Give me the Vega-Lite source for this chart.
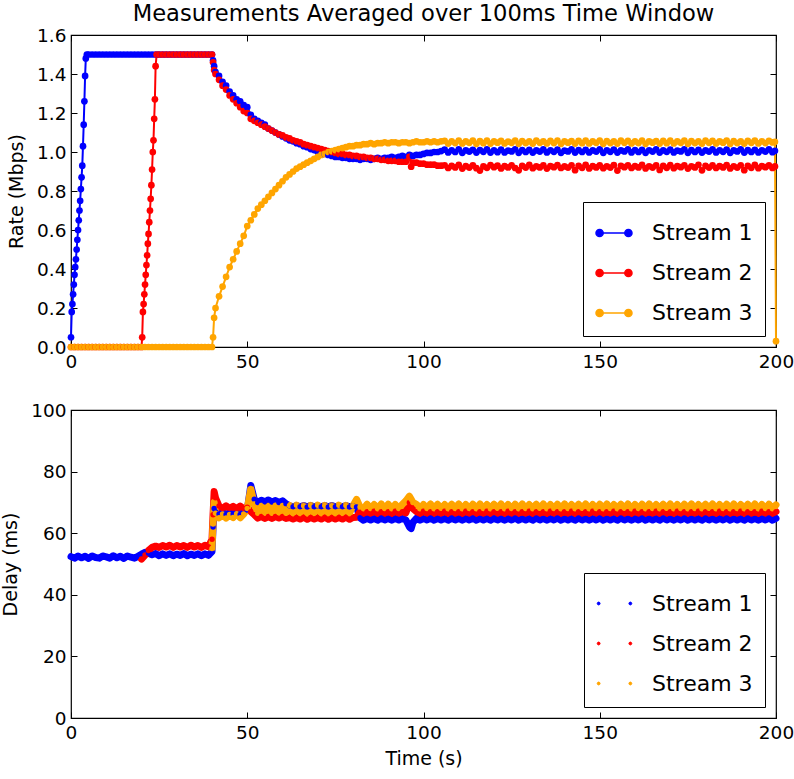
{
"$schema": "https://vega.github.io/schema/vega-lite/v6.json",
"padding": {"left": 1, "top": 2, "right": 0, "bottom": 4},
"background": "white",
"config": {
  "font": "DejaVu Sans",
  "view": {"stroke": "black", "strokeWidth": 1.2},
  "axis": {"domain": false, "grid": false, "ticks": true, "tickColor": "black", "tickSize": -6, "tickWidth": 1, "labelPadding": 11, "labelFontSize": 18.5, "labelColor": "black", "titleFontSize": 19, "titleFontWeight": "normal", "titleColor": "black", "labelFlush": false, "labelOverlap": false},
  "legend": {"orient": "bottom-right", "offset": 11, "padding": 12, "strokeColor": "black", "fillColor": "white", "cornerRadius": 0, "labelFontSize": 22, "labelColor": "black", "labelOffset": 19, "rowPadding": 10, "symbolSize": 1296, "labelFont": "DejaVu Sans"},
  "title": {"fontSize": 22.6, "fontWeight": "normal", "color": "black", "font": "DejaVu Sans"}
},
"datasets": {
"rate": [
{"t":0,"s1":0.05,"s2":0,"s3":0},{"t":0.2,"s1":0.18},{"t":0.4,"s1":0.22},{"t":0.6,"s1":0.27},{"t":0.8,"s1":0.32},
{"t":1,"s1":0.37,"s2":0,"s3":0},{"t":1.2,"s1":0.41},{"t":1.4,"s1":0.45},{"t":1.6,"s1":0.5},{"t":1.8,"s1":0.55},
{"t":2,"s1":0.6,"s2":0,"s3":0},{"t":2.2,"s1":0.65},{"t":2.4,"s1":0.7},{"t":2.6,"s1":0.75},{"t":2.8,"s1":0.81},
{"t":3,"s1":0.87,"s2":0,"s3":0},{"t":3.2,"s1":0.93},{"t":3.4,"s1":1.03},{"t":3.6,"s1":1.14},{"t":3.8,"s1":1.26},
{"t":4,"s1":1.39,"s2":0,"s3":0},{"t":4.2,"s1":1.48},{"t":4.5,"s1":1.5},
{"t":5,"s1":1.5,"s2":0,"s3":0},{"t":6,"s1":1.5,"s2":0,"s3":0},{"t":7,"s1":1.5,"s2":0,"s3":0},{"t":8,"s1":1.5,"s2":0,"s3":0},{"t":9,"s1":1.5,"s2":0,"s3":0},
{"t":10,"s1":1.5,"s2":0,"s3":0},{"t":11,"s1":1.5,"s2":0,"s3":0},{"t":12,"s1":1.5,"s2":0,"s3":0},{"t":13,"s1":1.5,"s2":0,"s3":0},{"t":14,"s1":1.5,"s2":0,"s3":0},
{"t":15,"s1":1.5,"s2":0,"s3":0},{"t":16,"s1":1.5,"s2":0,"s3":0},{"t":17,"s1":1.5,"s2":0,"s3":0},{"t":18,"s1":1.5,"s2":0,"s3":0},{"t":19,"s1":1.5,"s2":0,"s3":0},
{"t":20,"s1":1.5,"s2":0,"s3":0},{"t":20.2,"s2":0.05},{"t":20.4,"s2":0.18},{"t":20.6,"s2":0.22},{"t":20.8,"s2":0.27},
{"t":21,"s1":1.5,"s2":0.32,"s3":0},{"t":21.2,"s2":0.37},{"t":21.4,"s2":0.42},{"t":21.6,"s2":0.47},{"t":21.8,"s2":0.53},
{"t":22,"s1":1.5,"s2":0.58,"s3":0},{"t":22.2,"s2":0.64},{"t":22.4,"s2":0.7},{"t":22.6,"s2":0.76},{"t":22.8,"s2":0.83},
{"t":23,"s1":1.5,"s2":0.91,"s3":0},{"t":23.2,"s2":1.0},{"t":23.4,"s2":1.06},{"t":23.6,"s2":1.17},{"t":23.8,"s2":1.27},
{"t":24,"s1":1.5,"s2":1.44,"s3":0},{"t":24.3,"s2":1.5},
{"t":25,"s1":1.5,"s2":1.5,"s3":0},{"t":26,"s1":1.5,"s2":1.5,"s3":0},{"t":27,"s1":1.5,"s2":1.5,"s3":0},{"t":28,"s1":1.5,"s2":1.5,"s3":0},{"t":29,"s1":1.5,"s2":1.5,"s3":0},
{"t":30,"s1":1.5,"s2":1.5,"s3":0},{"t":31,"s1":1.5,"s2":1.5,"s3":0},{"t":32,"s1":1.5,"s2":1.5,"s3":0},{"t":33,"s1":1.5,"s2":1.5,"s3":0},{"t":34,"s1":1.5,"s2":1.5,"s3":0},
{"t":35,"s1":1.5,"s2":1.5,"s3":0},{"t":36,"s1":1.5,"s2":1.5,"s3":0},{"t":37,"s1":1.5,"s2":1.5,"s3":0},{"t":38,"s1":1.5,"s2":1.5,"s3":0},{"t":39,"s1":1.5,"s2":1.5,"s3":0},
{"t":40,"s1":1.5,"s2":1.5,"s3":0},{"t":40.3,"s1":1.47,"s2":1.46,"s3":0.05},{"t":40.6,"s1":1.44,"s2":1.42,"s3":0.15},
{"t":41,"s1":1.41,"s2":1.4,"s3":0.2},{"t":42,"s1":1.39,"s2":1.37,"s3":0.26},{"t":43,"s1":1.36,"s2":1.34,"s3":0.31},{"t":44,"s1":1.34,"s2":1.32,"s3":0.36},
{"t":45,"s1":1.31,"s2":1.29,"s3":0.41},{"t":46,"s1":1.29,"s2":1.27,"s3":0.45},{"t":47,"s1":1.27,"s2":1.25,"s3":0.49},{"t":48,"s1":1.26,"s2":1.23,"s3":0.53},
{"t":49,"s1":1.24,"s2":1.21,"s3":0.57},{"t":50,"s1":1.23,"s2":1.2,"s3":0.62},{"t":51,"s1":1.19,"s2":1.17,"s3":0.65},{"t":52,"s1":1.17,"s2":1.16,"s3":0.68},
{"t":53,"s1":1.16,"s2":1.15,"s3":0.71},{"t":54,"s1":1.15,"s2":1.14,"s3":0.73},{"t":55,"s1":1.14,"s2":1.13,"s3":0.75},{"t":56,"s1":1.12,"s2":1.12,"s3":0.77},
{"t":57,"s1":1.11,"s2":1.11,"s3":0.79},{"t":58,"s1":1.1,"s2":1.1,"s3":0.81},{"t":59,"s1":1.09,"s2":1.09,"s3":0.83},{"t":60,"s1":1.08,"s2":1.085,"s3":0.85},
{"t":61,"s1":1.07,"s2":1.075,"s3":0.87},{"t":62,"s1":1.06,"s2":1.07,"s3":0.885},{"t":63,"s1":1.055,"s2":1.06,"s3":0.9},{"t":64,"s1":1.045,"s2":1.055,"s3":0.915},
{"t":65,"s1":1.04,"s2":1.05,"s3":0.925},{"t":66,"s1":1.03,"s2":1.04,"s3":0.935},{"t":67,"s1":1.025,"s2":1.035,"s3":0.945},{"t":68,"s1":1.015,"s2":1.03,"s3":0.955},
{"t":69,"s1":1.01,"s2":1.025,"s3":0.965},{"t":70,"s1":1.0,"s2":1.02,"s3":0.975},{"t":71,"s1":0.995,"s2":1.015,"s3":0.985},{"t":72,"s1":0.99,"s2":1.01,"s3":0.99},
{"t":73,"s1":0.985,"s2":1.005,"s3":1.0},{"t":74,"s1":0.98,"s2":1.0,"s3":1.005},{"t":75,"s1":0.975,"s2":0.995,"s3":1.01},{"t":76,"s1":0.975,"s2":0.99,"s3":1.015},
{"t":77,"s1":0.97,"s2":0.99,"s3":1.02},{"t":78,"s1":0.97,"s2":0.985,"s3":1.025},{"t":79,"s1":0.965,"s2":0.985,"s3":1.03},{"t":80,"s1":0.965,"s2":0.98,"s3":1.03},
{"t":81,"s1":0.965,"s2":0.98,"s3":1.035},{"t":82,"s1":0.96,"s2":0.975,"s3":1.035},{"t":83,"s1":0.965,"s2":0.975,"s3":1.04},{"t":84,"s1":0.965,"s2":0.97,"s3":1.04},
{"t":85,"s1":0.96,"s2":0.97,"s3":1.045},{"t":86,"s1":0.965,"s2":0.965,"s3":1.04},{"t":87,"s1":0.97,"s2":0.965,"s3":1.045},{"t":88,"s1":0.965,"s2":0.96,"s3":1.045},
{"t":89,"s1":0.97,"s2":0.96,"s3":1.05},{"t":90,"s1":0.97,"s2":0.955,"s3":1.045},{"t":91,"s1":0.975,"s2":0.955,"s3":1.05},{"t":92,"s1":0.97,"s2":0.955,"s3":1.05},
{"t":93,"s1":0.975,"s2":0.95,"s3":1.045},{"t":94,"s1":0.98,"s2":0.95,"s3":1.05},{"t":95,"s1":0.975,"s2":0.95,"s3":1.05},{"t":96,"s1":0.985,"s2":0.975,"s3":1.045},
{"t":96.5,"s2":0.925},{"t":97,"s1":0.98,"s2":0.945,"s3":1.05},{"t":98,"s1":0.985,"s2":0.945,"s3":1.055},{"t":99,"s1":0.985,"s2":0.94,"s3":1.05},
{"t":100,"s1":0.99,"s2":0.94,"s3":1.05},{"t":101,"s1":0.995,"s2":0.935,"s3":1.055},{"t":102,"s1":0.995,"s2":0.935,"s3":1.05},{"t":103,"s1":1.0,"s2":0.935,"s3":1.055},
{"t":104,"s1":1.0,"s2":0.93,"s3":1.05},{"t":105,"s1":1.005,"s2":0.93,"s3":1.055},
{"t":106,"s1":1.012,"s2":0.932,"s3":1.057},{"t":107,"s1":0.998,"s2":0.918,"s3":1.043},{"t":108,"s1":1.009,"s2":0.929,"s3":1.055},{"t":109,"s1":1.0,"s2":0.921,"s3":1.046},
{"t":110,"s1":1.014,"s2":0.934,"s3":1.059},{"t":111,"s1":0.996,"s2":0.915,"s3":1.044},{"t":112,"s1":1.008,"s2":0.928,"s3":1.054},{"t":113,"s1":1.002,"s2":0.92,"s3":1.047},
{"t":114,"s1":1.011,"s2":0.931,"s3":1.058},{"t":115,"s1":0.997,"s2":0.917,"s3":1.042},{"t":116,"s1":1.01,"s2":0.905,"s3":1.056},{"t":117,"s1":1.001,"s2":0.926,"s3":1.045},
{"t":118,"s1":1.013,"s2":0.919,"s3":1.058},{"t":119,"s1":0.997,"s2":0.933,"s3":1.043},{"t":120,"s1":1.009,"s2":0.922,"s3":1.055},{"t":121,"s1":0.999,"s2":0.93,"s3":1.048},
{"t":122,"s1":1.012,"s2":0.916,"s3":1.057},{"t":123,"s1":0.998,"s2":0.928,"s3":1.044},{"t":124,"s1":1.007,"s2":0.921,"s3":1.053},{"t":125,"s1":1.003,"s2":0.932,"s3":1.047},
{"t":126,"s1":1.014,"s2":0.918,"s3":1.059},{"t":127,"s1":0.996,"s2":0.906,"s3":1.042},{"t":128,"s1":1.01,"s2":0.929,"s3":1.056},{"t":129,"s1":1.0,"s2":0.92,"s3":1.046},
{"t":130,"s1":1.011,"s2":0.934,"s3":1.055},{"t":131,"s1":0.997,"s2":0.917,"s3":1.043},{"t":132,"s1":1.008,"s2":0.927,"s3":1.058},{"t":133,"s1":1.002,"s2":0.921,"s3":1.047},
{"t":134,"s1":1.013,"s2":0.931,"s3":1.054},{"t":135,"s1":0.998,"s2":0.915,"s3":1.044},{"t":136,"s1":1.009,"s2":0.928,"s3":1.057},{"t":137,"s1":1.001,"s2":0.922,"s3":1.046},
{"t":138,"s1":1.012,"s2":0.933,"s3":1.059},{"t":139,"s1":0.996,"s2":0.918,"s3":1.042},{"t":140,"s1":1.007,"s2":0.926,"s3":1.055},{"t":141,"s1":1.003,"s2":0.92,"s3":1.048},
{"t":142,"s1":1.014,"s2":0.932,"s3":1.056},{"t":143,"s1":0.997,"s2":0.907,"s3":1.043},{"t":144,"s1":1.01,"s2":0.929,"s3":1.057},{"t":145,"s1":1.0,"s2":0.919,"s3":1.045},
{"t":146,"s1":1.011,"s2":0.934,"s3":1.058},{"t":147,"s1":0.998,"s2":0.916,"s3":1.044},{"t":148,"s1":1.008,"s2":0.928,"s3":1.054},{"t":149,"s1":1.002,"s2":0.921,"s3":1.047},
{"t":150,"s1":1.013,"s2":0.931,"s3":1.059},{"t":151,"s1":0.996,"s2":0.917,"s3":1.042},{"t":152,"s1":1.009,"s2":0.927,"s3":1.056},{"t":153,"s1":1.001,"s2":0.92,"s3":1.046},
{"t":154,"s1":1.012,"s2":0.933,"s3":1.055},{"t":155,"s1":0.997,"s2":0.905,"s3":1.043},{"t":156,"s1":1.008,"s2":0.929,"s3":1.058},{"t":157,"s1":1.003,"s2":0.922,"s3":1.047},
{"t":158,"s1":1.014,"s2":0.932,"s3":1.057},{"t":159,"s1":0.998,"s2":0.918,"s3":1.044},{"t":160,"s1":1.01,"s2":0.928,"s3":1.054},{"t":161,"s1":1.0,"s2":0.921,"s3":1.046},
{"t":162,"s1":1.011,"s2":0.934,"s3":1.059},{"t":163,"s1":0.996,"s2":0.916,"s3":1.042},{"t":164,"s1":1.009,"s2":0.927,"s3":1.055},{"t":165,"s1":1.002,"s2":0.92,"s3":1.048},
{"t":166,"s1":1.013,"s2":0.931,"s3":1.056},{"t":167,"s1":0.997,"s2":0.908,"s3":1.043},{"t":168,"s1":1.008,"s2":0.929,"s3":1.057},{"t":169,"s1":1.001,"s2":0.919,"s3":1.045},
{"t":170,"s1":1.012,"s2":0.933,"s3":1.058},{"t":171,"s1":0.998,"s2":0.917,"s3":1.044},{"t":172,"s1":1.007,"s2":0.928,"s3":1.054},{"t":173,"s1":1.003,"s2":0.922,"s3":1.047},
{"t":174,"s1":1.014,"s2":0.932,"s3":1.059},{"t":175,"s1":0.996,"s2":0.915,"s3":1.042},{"t":176,"s1":1.01,"s2":0.927,"s3":1.056},{"t":177,"s1":1.0,"s2":0.921,"s3":1.046},
{"t":178,"s1":1.011,"s2":0.934,"s3":1.055},{"t":179,"s1":0.997,"s2":0.906,"s3":1.043},{"t":180,"s1":1.008,"s2":0.929,"s3":1.058},{"t":181,"s1":1.002,"s2":0.92,"s3":1.047},
{"t":182,"s1":1.013,"s2":0.931,"s3":1.057},{"t":183,"s1":0.998,"s2":0.918,"s3":1.044},{"t":184,"s1":1.009,"s2":0.928,"s3":1.054},{"t":185,"s1":1.001,"s2":0.921,"s3":1.048},
{"t":186,"s1":1.012,"s2":0.933,"s3":1.059},{"t":187,"s1":0.996,"s2":0.916,"s3":1.042},{"t":188,"s1":1.008,"s2":0.927,"s3":1.056},{"t":189,"s1":1.003,"s2":0.92,"s3":1.046},
{"t":190,"s1":1.014,"s2":0.932,"s3":1.055},{"t":191,"s1":0.997,"s2":0.907,"s3":1.043},{"t":192,"s1":1.01,"s2":0.929,"s3":1.057},{"t":193,"s1":1.0,"s2":0.919,"s3":1.047},
{"t":194,"s1":1.011,"s2":0.934,"s3":1.058},{"t":195,"s1":0.998,"s2":0.917,"s3":1.044},{"t":196,"s1":1.009,"s2":0.928,"s3":1.055},{"t":197,"s1":1.002,"s2":0.922,"s3":1.046},
{"t":198,"s1":1.013,"s2":0.931,"s3":1.057},{"t":199,"s1":0.999,"s2":0.918,"s3":1.049},{"t":199.7,"s1":1.006,"s2":0.926,"s3":1.052},{"t":200,"s3":0.03}
],
"delay": [
{"t":0,"s1":52.4},{"t":1,"s1":51.9},{"t":2,"s1":52.6},{"t":3,"s1":52.0},{"t":4,"s1":52.5},{"t":5,"s1":51.8},{"t":6,"s1":52.6},{"t":7,"s1":52.1},{"t":8,"s1":51.9},{"t":9,"s1":52.6},
{"t":10,"s1":52.3},{"t":11,"s1":51.9},{"t":12,"s1":52.7},{"t":13,"s1":52.0},{"t":14,"s1":52.5},{"t":15,"s1":51.8},{"t":16,"s1":52.6},{"t":17,"s1":52.2},{"t":18,"s1":51.9},{"t":19,"s1":52.5},
{"t":20,"s1":53.2,"s2":51.6},{"t":21,"s1":53.8,"s2":52.9},{"t":22,"s1":53.5,"s2":54.4},{"t":23,"s1":53.0,"s2":55.4},{"t":24,"s1":53.4,"s2":55.8},
{"t":25,"s1":52.7,"s2":55.4},{"t":26,"s1":53.3,"s2":56.0},{"t":27,"s1":52.8,"s2":55.5},{"t":28,"s1":53.3,"s2":56.1},{"t":29,"s1":52.7,"s2":55.4},
{"t":30,"s1":53.2,"s2":56.0},{"t":31,"s1":52.8,"s2":55.5},{"t":32,"s1":53.4,"s2":56.0},{"t":33,"s1":52.7,"s2":55.4},{"t":34,"s1":53.2,"s2":56.1},
{"t":35,"s1":52.8,"s2":55.5},{"t":36,"s1":53.3,"s2":56.0},{"t":37,"s1":52.7,"s2":55.4},{"t":38,"s1":53.3,"s2":56.1},{"t":39,"s1":52.8,"s2":55.6},
{"t":40,"s1":54,"s2":58,"s3":55},{"t":40.3,"s1":62,"s2":66,"s3":63},{"t":40.6,"s1":68,"s2":73.5,"s3":70},{"t":41,"s1":67,"s2":71.5,"s3":66.5},
{"t":42,"s1":66.2,"s2":68.8,"s3":65.0},{"t":43,"s1":66.8,"s2":68.0,"s3":66.2},{"t":44,"s1":66.1,"s2":68.9,"s3":64.9},{"t":45,"s1":66.7,"s2":68.1,"s3":66.1},
{"t":46,"s1":66.2,"s2":68.7,"s3":65.1},{"t":47,"s1":66.8,"s2":67.9,"s3":66.3},{"t":48,"s1":66.1,"s2":68.8,"s3":65.0},{"t":49,"s1":66.9,"s2":68.0,"s3":66.2},
{"t":50,"s1":67.5,"s2":68.4,"s3":68.0},{"t":51,"s1":75.5,"s2":67.0,"s3":74.5},{"t":52,"s1":71,"s2":66.0,"s3":69.5},
{"t":53,"s1":70.0,"s2":64.9,"s3":66.5},{"t":54,"s1":70.7,"s2":65.4,"s3":69.0},{"t":55,"s1":70.2,"s2":64.8,"s3":66.6},{"t":56,"s1":70.8,"s2":65.4,"s3":68.9},
{"t":57,"s1":70.1,"s2":64.8,"s3":66.5},{"t":58,"s1":70.6,"s2":65.4,"s3":69.1},{"t":59,"s1":70.0,"s2":64.9,"s3":66.6},{"t":60,"s1":70.5,"s2":65.4,"s3":69.0},
{"t":61,"s1":69.6,"s2":64.8,"s3":66.5},{"t":62,"s1":68.9,"s2":65.1,"s3":69.0},{"t":63,"s1":68.6,"s2":64.6,"s3":66.4},{"t":64,"s1":69.0,"s2":65.1,"s3":69.1},
{"t":65,"s1":68.6,"s2":64.6,"s3":66.5},{"t":66,"s1":69.0,"s2":65.2,"s3":68.9},{"t":67,"s1":68.5,"s2":64.5,"s3":66.4},{"t":68,"s1":69.0,"s2":65.1,"s3":69.0},
{"t":69,"s1":68.6,"s2":64.6,"s3":66.6},{"t":70,"s1":68.9,"s2":65.1,"s3":69.1},{"t":71,"s1":68.6,"s2":64.6,"s3":66.4},{"t":72,"s1":69.0,"s2":65.2,"s3":69.0},
{"t":73,"s1":68.5,"s2":64.5,"s3":66.5},{"t":74,"s1":69.0,"s2":65.1,"s3":68.9},{"t":75,"s1":68.6,"s2":64.6,"s3":66.4},{"t":76,"s1":68.9,"s2":65.1,"s3":69.1},
{"t":77,"s1":68.6,"s2":64.6,"s3":66.6},{"t":78,"s1":69.0,"s2":65.2,"s3":69.0},{"t":79,"s1":68.5,"s2":64.5,"s3":66.5},{"t":80,"s1":68.9,"s2":65.1,"s3":68.9},
{"t":81,"s1":68.5,"s2":65.2,"s3":71.0},{"t":82,"s1":65.0,"s2":67.0,"s3":68.5},
{"t":83,"s1":64.2,"s2":66.4,"s3":67.9},{"t":84,"s1":64.8,"s2":67.0,"s3":69.4},{"t":85,"s1":64.3,"s2":66.5,"s3":68.0},{"t":86,"s1":64.8,"s2":67.1,"s3":69.3},
{"t":87,"s1":64.2,"s2":66.4,"s3":67.9},{"t":88,"s1":64.9,"s2":67.0,"s3":69.5},{"t":89,"s1":64.3,"s2":66.5,"s3":68.0},{"t":90,"s1":64.8,"s2":67.0,"s3":69.4},
{"t":91,"s1":64.2,"s2":66.4,"s3":67.9},{"t":92,"s1":64.8,"s2":67.1,"s3":69.3},{"t":93,"s1":64.3,"s2":66.5,"s3":68.0},{"t":94,"s1":64.8,"s2":67.0,"s3":69.4},
{"t":95,"s1":64.3,"s2":66.6,"s3":70.5},{"t":96,"s1":62.0,"s2":70.0,"s3":72.0},{"t":96.5,"s1":61.5,"s2":69.0,"s3":71.0},{"t":97,"s1":63.5,"s2":68.0,"s3":70.0},
{"t":98,"s1":64.8,"s2":67.0,"s3":69.4},{"t":99,"s1":64.2,"s2":66.4,"s3":67.9},{"t":100,"s1":64.8,"s2":67.1,"s3":69.3},{"t":101,"s1":64.3,"s2":66.5,"s3":68.0},
{"t":102,"s1":64.9,"s2":67.0,"s3":69.5},{"t":103,"s1":64.2,"s2":66.4,"s3":67.9},{"t":104,"s1":64.8,"s2":67.0,"s3":69.4},{"t":105,"s1":64.3,"s2":66.5,"s3":68.1},
{"t":106,"s1":64.8,"s2":67.1,"s3":69.3},{"t":107,"s1":64.2,"s2":66.4,"s3":67.9},{"t":108,"s1":64.9,"s2":67.0,"s3":69.4},{"t":109,"s1":64.3,"s2":66.5,"s3":68.0},
{"t":110,"s1":64.8,"s2":67.0,"s3":69.5},{"t":111,"s1":64.2,"s2":66.4,"s3":67.9},{"t":112,"s1":64.8,"s2":67.1,"s3":69.3},{"t":113,"s1":64.3,"s2":66.5,"s3":68.0},
{"t":114,"s1":64.9,"s2":67.0,"s3":69.4},{"t":115,"s1":64.2,"s2":66.4,"s3":67.9},{"t":116,"s1":64.8,"s2":67.0,"s3":69.5},{"t":117,"s1":64.3,"s2":66.5,"s3":68.0},
{"t":118,"s1":64.8,"s2":67.1,"s3":69.3},{"t":119,"s1":64.2,"s2":66.4,"s3":67.9},{"t":120,"s1":64.9,"s2":67.0,"s3":69.4},{"t":121,"s1":64.3,"s2":66.5,"s3":68.1},
{"t":122,"s1":64.8,"s2":67.0,"s3":69.5},{"t":123,"s1":64.2,"s2":66.4,"s3":67.9},{"t":124,"s1":64.8,"s2":67.1,"s3":69.3},{"t":125,"s1":64.3,"s2":66.5,"s3":68.0},
{"t":126,"s1":64.9,"s2":67.0,"s3":69.4},{"t":127,"s1":64.2,"s2":66.4,"s3":67.9},{"t":128,"s1":64.8,"s2":67.0,"s3":69.5},{"t":129,"s1":64.3,"s2":66.5,"s3":68.0},
{"t":130,"s1":64.8,"s2":67.1,"s3":69.3},{"t":131,"s1":64.2,"s2":66.4,"s3":67.9},{"t":132,"s1":64.9,"s2":67.0,"s3":69.4},{"t":133,"s1":64.3,"s2":66.5,"s3":68.1},
{"t":134,"s1":64.8,"s2":67.0,"s3":69.5},{"t":135,"s1":64.2,"s2":66.4,"s3":67.9},{"t":136,"s1":64.8,"s2":67.1,"s3":69.3},{"t":137,"s1":64.3,"s2":66.5,"s3":68.0},
{"t":138,"s1":64.9,"s2":67.0,"s3":69.4},{"t":139,"s1":64.2,"s2":66.4,"s3":67.9},{"t":140,"s1":64.8,"s2":67.0,"s3":69.5},{"t":141,"s1":64.3,"s2":66.5,"s3":68.0},
{"t":142,"s1":64.8,"s2":67.1,"s3":69.3},{"t":143,"s1":64.2,"s2":66.4,"s3":67.9},{"t":144,"s1":64.9,"s2":67.0,"s3":69.4},{"t":145,"s1":64.3,"s2":66.5,"s3":68.1},
{"t":146,"s1":64.8,"s2":67.0,"s3":69.5},{"t":147,"s1":64.2,"s2":66.4,"s3":67.9},{"t":148,"s1":64.8,"s2":67.1,"s3":69.3},{"t":149,"s1":64.3,"s2":66.5,"s3":68.0},
{"t":150,"s1":64.9,"s2":67.0,"s3":69.4},{"t":151,"s1":64.2,"s2":66.4,"s3":67.9},{"t":152,"s1":64.8,"s2":67.0,"s3":69.5},{"t":153,"s1":64.3,"s2":66.5,"s3":68.0},
{"t":154,"s1":64.8,"s2":67.1,"s3":69.3},{"t":155,"s1":64.2,"s2":66.4,"s3":67.9},{"t":156,"s1":64.9,"s2":67.0,"s3":69.4},{"t":157,"s1":64.3,"s2":66.5,"s3":68.1},
{"t":158,"s1":64.8,"s2":67.0,"s3":69.5},{"t":159,"s1":64.2,"s2":66.4,"s3":67.9},{"t":160,"s1":64.8,"s2":67.1,"s3":69.3},{"t":161,"s1":64.3,"s2":66.5,"s3":68.0},
{"t":162,"s1":64.9,"s2":67.0,"s3":69.4},{"t":163,"s1":64.2,"s2":66.4,"s3":67.9},{"t":164,"s1":64.8,"s2":67.0,"s3":69.5},{"t":165,"s1":64.3,"s2":66.5,"s3":68.0},
{"t":166,"s1":64.8,"s2":67.1,"s3":69.3},{"t":167,"s1":64.2,"s2":66.4,"s3":67.9},{"t":168,"s1":64.9,"s2":67.0,"s3":69.4},{"t":169,"s1":64.3,"s2":66.5,"s3":68.1},
{"t":170,"s1":64.8,"s2":67.0,"s3":69.5},{"t":171,"s1":64.2,"s2":66.4,"s3":67.9},{"t":172,"s1":64.8,"s2":67.1,"s3":69.3},{"t":173,"s1":64.3,"s2":66.5,"s3":68.0},
{"t":174,"s1":64.9,"s2":67.0,"s3":69.4},{"t":175,"s1":64.2,"s2":66.4,"s3":67.9},{"t":176,"s1":64.8,"s2":67.0,"s3":69.5},{"t":177,"s1":64.3,"s2":66.5,"s3":68.0},
{"t":178,"s1":64.8,"s2":67.1,"s3":69.3},{"t":179,"s1":64.2,"s2":66.4,"s3":67.9},{"t":180,"s1":64.9,"s2":67.0,"s3":69.4},{"t":181,"s1":64.3,"s2":66.5,"s3":68.1},
{"t":182,"s1":64.8,"s2":67.0,"s3":69.5},{"t":183,"s1":64.2,"s2":66.4,"s3":67.9},{"t":184,"s1":64.8,"s2":67.1,"s3":69.3},{"t":185,"s1":64.3,"s2":66.5,"s3":68.0},
{"t":186,"s1":64.9,"s2":67.0,"s3":69.4},{"t":187,"s1":64.2,"s2":66.4,"s3":67.9},{"t":188,"s1":64.8,"s2":67.0,"s3":69.5},{"t":189,"s1":64.3,"s2":66.5,"s3":68.0},
{"t":190,"s1":64.8,"s2":67.1,"s3":69.3},{"t":191,"s1":64.2,"s2":66.4,"s3":67.9},{"t":192,"s1":64.9,"s2":67.0,"s3":69.4},{"t":193,"s1":64.3,"s2":66.5,"s3":68.1},
{"t":194,"s1":64.8,"s2":67.0,"s3":69.5},{"t":195,"s1":64.2,"s2":66.4,"s3":67.9},{"t":196,"s1":64.8,"s2":67.1,"s3":69.3},{"t":197,"s1":64.3,"s2":66.5,"s3":68.0},
{"t":198,"s1":64.9,"s2":67.0,"s3":69.4},{"t":199,"s1":64.2,"s2":66.4,"s3":67.9},{"t":200,"s1":64.8,"s2":67.0,"s3":69.2}
]
},
"vconcat": [
{
  "width": 705, "height": 312,
  "title": {"text": "Measurements Averaged over 100ms Time Window", "frame": "group", "anchor": "middle", "offset": 0},
  "data": {"name": "rate"},
  "transform": [{"fold": ["s1", "s2", "s3"], "as": ["stream", "value"]}, {"filter": "isValid(datum.value)"}],
  "encoding": {
    "color": {"field": "stream", "type": "nominal",
      "scale": {"domain": ["s1", "s2", "s3"], "range": ["#0000ff", "#ff0000", "#ffa500"]},
      "legend": {"title": null, "labelExpr": "'Stream ' + slice(datum.label, 1)",
        "symbolType": "M-0.8,0L0.8,0M-1,0A0.2,0.2,0,1,0,-0.6,0A0.2,0.2,0,1,0,-1,0ZM0.6,0A0.2,0.2,0,1,0,1,0A0.2,0.2,0,1,0,0.6,0Z",
        "symbolStrokeWidth": 1.5,
        "encode": {"symbols": {"update": {
          "fill": {"signal": "datum.value == 's1' ? '#0000ff' : datum.value == 's2' ? '#ff0000' : '#ffa500'"},
          "stroke": {"signal": "datum.value == 's1' ? '#0000ff' : datum.value == 's2' ? '#ff0000' : '#ffa500'"},
          "opacity": {"value": 1}}}}}
    }
  },
  "layer": [
    {"mark": {"type": "line", "strokeWidth": 2, "strokeJoin": "round"},
     "encoding": {
       "x": {"field": "t", "type": "quantitative", "scale": {"domain": [0, 200], "nice": false, "zero": false},
             "axis": {"orient": "bottom", "title": null, "values": [0, 50, 100, 150, 200]}},
       "y": {"field": "value", "type": "quantitative", "scale": {"domain": [0, 1.6], "nice": false},
             "axis": {"orient": "left", "title": "Rate (Mbps)", "values": [0, 0.2, 0.4, 0.6, 0.8, 1.0, 1.2, 1.4, 1.6], "format": ".1f", "titlePadding": 10}}
     }},
    {"mark": {"type": "point", "filled": true, "size": 45, "opacity": 1, "strokeWidth": 0},
     "encoding": {
       "x": {"field": "t", "type": "quantitative", "scale": {"domain": [0, 200], "nice": false, "zero": false},
             "axis": {"orient": "top", "title": null, "labels": false, "values": [0, 50, 100, 150, 200]}},
       "y": {"field": "value", "type": "quantitative", "scale": {"domain": [0, 1.6], "nice": false},
             "axis": {"orient": "right", "title": null, "labels": false, "values": [0, 0.2, 0.4, 0.6, 0.8, 1.0, 1.2, 1.4, 1.6]}}
     }}
  ],
  "resolve": {"axis": {"x": "independent", "y": "independent"}}
},
{
  "width": 705, "height": 308,
  "data": {"name": "delay"},
  "transform": [{"fold": ["s1", "s2", "s3"], "as": ["stream", "value"]}, {"filter": "isValid(datum.value)"}],
  "encoding": {
    "color": {"field": "stream", "type": "nominal",
      "scale": {"domain": ["s1", "s2", "s3"], "range": ["#0000ff", "#ff0000", "#ffa500"]},
      "legend": {"title": null, "labelExpr": "'Stream ' + slice(datum.label, 1)",
        "symbolType": "M-0.96,0A0.08,0.08,0,1,0,-0.8,0A0.08,0.08,0,1,0,-0.96,0ZM0.8,0A0.08,0.08,0,1,0,0.96,0A0.08,0.08,0,1,0,0.8,0Z",
        "symbolStrokeWidth": 1,
        "encode": {"symbols": {"update": {
          "fill": {"signal": "datum.value == 's1' ? '#0000ff' : datum.value == 's2' ? '#ff0000' : '#ffa500'"},
          "stroke": {"signal": "datum.value == 's1' ? '#0000ff' : datum.value == 's2' ? '#ff0000' : '#ffa500'"},
          "opacity": {"value": 1}}}}}
    }
  },
  "layer": [
    {"mark": {"type": "line", "strokeWidth": 7, "strokeJoin": "round", "strokeCap": "round"},
     "encoding": {
       "x": {"field": "t", "type": "quantitative", "scale": {"domain": [0, 200], "nice": false, "zero": false},
             "axis": {"orient": "bottom", "title": "Time (s)", "values": [0, 50, 100, 150, 200], "titlePadding": 8}},
       "y": {"field": "value", "type": "quantitative", "scale": {"domain": [0, 100], "nice": false},
             "axis": {"orient": "left", "title": "Delay (ms)", "values": [0, 20, 40, 60, 80, 100], "titlePadding": 10}}
     }},
    {"mark": {"type": "point", "filled": true, "size": 30, "opacity": 1, "strokeWidth": 0},
     "encoding": {
       "x": {"field": "t", "type": "quantitative", "scale": {"domain": [0, 200], "nice": false, "zero": false},
             "axis": {"orient": "top", "title": null, "labels": false, "values": [0, 50, 100, 150, 200]}},
       "y": {"field": "value", "type": "quantitative", "scale": {"domain": [0, 100], "nice": false},
             "axis": {"orient": "right", "title": null, "labels": false, "values": [0, 20, 40, 60, 80, 100]}}
     }}
  ],
  "resolve": {"axis": {"x": "independent", "y": "independent"}}
}
],
"spacing": 28,
"resolve": {"scale": {"color": "independent"}}
}
